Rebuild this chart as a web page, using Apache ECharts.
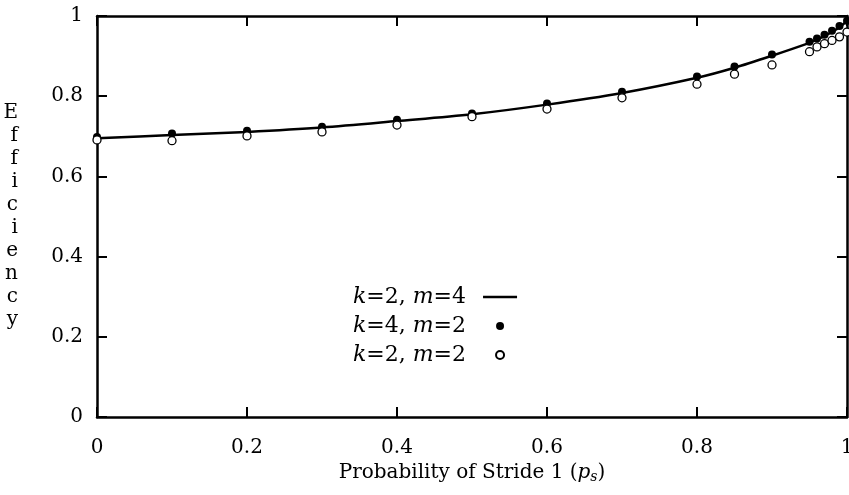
<!DOCTYPE html>
<html><head><meta charset="utf-8">
<script src="https://cdn.jsdelivr.net/npm/echarts@6/dist/echarts.min.js"></script>
<style>html,body{margin:0;padding:0;background:#fff}#c{width:849px;height:495px}</style>
</head><body><div id="c"></div>
<script>
const xs = [0, 0.1, 0.2, 0.3, 0.4, 0.5, 0.6, 0.7, 0.8, 0.85, 0.9, 0.95, 0.96, 0.97, 0.98, 0.99, 1.0];
const lineK2M4 = [0.695, 0.703, 0.711, 0.722, 0.738, 0.755, 0.779, 0.808, 0.846, 0.871, 0.901, 0.933, 0.941, 0.950, 0.960, 0.972, 0.988];
const dotsK4M2 = [0.698, 0.707, 0.714, 0.724, 0.741, 0.757, 0.782, 0.811, 0.849, 0.874, 0.904, 0.936, 0.944, 0.953, 0.963, 0.975, 0.988];
const circK2M2 = [0.691, 0.689, 0.701, 0.711, 0.728, 0.749, 0.768, 0.796, 0.830, 0.855, 0.878, 0.911, 0.923, 0.931, 0.939, 0.948, 0.960];
const tickVals = [0, 0.2, 0.4, 0.6, 0.8, 1];
const seriesNames = ['{i|k}=2, {i|m}=4', '{i|k}=4, {i|m}=2', '{i|k}=2, {i|m}=2'];

const FONT = 'DejaVu Serif';
const pair = (a) => xs.map((x, i) => [x, a[i]]);
const fmt = (v) => (v === 0 || v === 1) ? String(v) : v.toFixed(1);
const axisCommon = () => ({
  type: 'value', min: 0, max: 1, interval: 0.2,
  axisLine: { show: true, onZero: false, lineStyle: { color: '#000', width: 2.5 } },
  axisTick: { show: true, inside: true, length: 10, lineStyle: { color: '#000', width: 2 } },
  splitLine: { show: false }
});
const chart = echarts.init(document.getElementById('c'), null, { renderer: 'canvas' });
chart.setOption({
  animation: false,
  backgroundColor: '#fff',
  grid: { left: 97, right: 2, top: 16, bottom: 78, containLabel: false, outerBoundsMode: 'none' },
  xAxis: [
    Object.assign(axisCommon(), {
      position: 'bottom',
      axisLabel: { formatter: fmt, color: '#000', fontFamily: FONT, fontSize: 20, margin: 21 },
      name: 'Probability of Stride 1 ({i|p}{sub|s})',
      nameLocation: 'middle', nameGap: 44,
      nameTextStyle: { color: '#000', fontFamily: FONT, fontSize: 20,
        rich: { i: { fontFamily: FONT, fontStyle: 'italic', fontSize: 20, color: '#000' },
                sub: { fontFamily: FONT, fontStyle: 'italic', fontSize: 14, color: '#000', verticalAlign: 'bottom', padding: [8, 0, 0, 0] } } }
    }),
    Object.assign(axisCommon(), { position: 'top', axisLabel: { show: false } })
  ],
  yAxis: [
    Object.assign(axisCommon(), {
      position: 'left',
      axisLabel: { formatter: fmt, color: '#000', fontFamily: FONT, fontSize: 20, margin: 14 },
      name: 'Efficiency'.split('').join('\n'),
      nameLocation: 'middle', nameRotate: 0, nameGap: 79,
      nameTextStyle: { color: '#000', fontFamily: FONT, fontSize: 20, lineHeight: 23 }
    }),
    Object.assign(axisCommon(), { position: 'right', axisLabel: { show: false } })
  ],
  legend: {
    orient: 'vertical', align: 'right', left: 348, top: 281,
    itemGap: 7, itemWidth: 34, itemHeight: 8,
    data: [
      { name: seriesNames[0], icon: 'path://M0,0L34,0L34,2.5L0,2.5Z', itemStyle: { color: '#000' } },
      { name: seriesNames[1], icon: 'circle' },
      { name: seriesNames[2], icon: 'circle' }
    ],
    formatter: (n) => n,
    textStyle: { color: '#000', fontFamily: FONT, fontSize: 22, padding: [0, 12, 0, 0],
      rich: { i: { fontFamily: FONT, fontStyle: 'italic', fontSize: 22, color: '#000' } } }
  },
  series: [
    { name: seriesNames[0], type: 'line', data: pair(lineK2M4), symbol: 'none', smooth: 0.3,
      lineStyle: { color: '#000', width: 2.5 }, itemStyle: { color: '#000' }, z: 2 },
    { name: seriesNames[1], type: 'scatter', data: pair(dotsK4M2), symbol: 'circle', symbolSize: 8,
      itemStyle: { color: '#000', opacity: 1 }, z: 3 },
    { name: seriesNames[2], type: 'scatter', data: pair(circK2M2), symbol: 'circle', symbolSize: 8,
      itemStyle: { color: '#fff', borderColor: '#000', borderWidth: 1.3, opacity: 1 }, z: 3 }
  ]
});
</script></body></html>
